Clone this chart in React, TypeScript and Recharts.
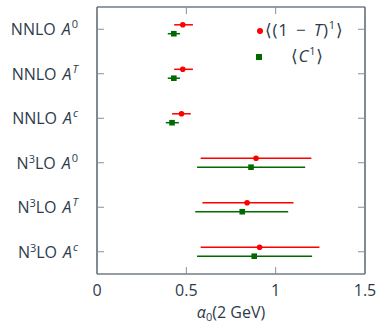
import React from 'react';
import { ScatterChart, Scatter, XAxis, YAxis, ErrorBar } from 'recharts';

const orders = ['NNLO', 'NNLO', 'NNLO', 'N3LO', 'N3LO', 'N3LO'];
const schemes = ['0', 'T', 'c', '0', 'T', 'c'];

// <(1-T)^1> fits
const thrustCentral = [0.48, 0.48, 0.473, 0.89, 0.84, 0.91];
const thrustLow = [0.432, 0.432, 0.42, 0.58, 0.59, 0.58];
const thrustHigh = [0.537, 0.537, 0.525, 1.2, 1.1, 1.245];

// <C^1> fits
const cparCentral = [0.43, 0.43, 0.42, 0.862, 0.813, 0.88];
const cparLow = [0.396, 0.396, 0.385, 0.56, 0.55, 0.56];
const cparHigh = [0.465, 0.465, 0.458, 1.165, 1.07, 1.204];

const xTicks = [0, 0.5, 1, 1.5];
const yTicks = [1, 2, 3, 4, 5, 6];

const TEXT = '#2c3b4b';
const TICK = '#8a8f96';
const RED = '#ff0000';
const GREEN = '#006a00';
const FONT = '"Open Sans", "DejaVu Sans", sans-serif';
const FS = 16;
const TL = 7; // inward tick length
const LM = 19; // gap between left axis and label end
const BM = 10; // gap between bottom axis and label top

const build = (c: number[], lo: number[], hi: number[], shift: number) =>
  c.map((v, i) => ({ x: v, y: i + 1 + shift, err: [v - lo[i], hi[i] - v] }));

const thrustData = build(thrustCentral, thrustLow, thrustHigh, -0.1);
const cparData = build(cparCentral, cparLow, cparHigh, 0.1);

const LeftTick = (props: any) => {
  const { x, y, payload } = props;
  const i = Math.round(payload.value) - 1;
  const n3 = orders[i] === 'N3LO';
  const ax = x + LM;
  return (
    <g>
      <line x1={ax} x2={ax + TL} y1={y} y2={y} stroke={TICK} strokeWidth={1} />
      <text x={x} y={y} dy={6} textAnchor="end" fill={TEXT} fontSize={FS} fontFamily={FONT}>
        {n3 ? (
          <>
            <tspan>N</tspan>
            <tspan fontSize={11} dy={-6}>3</tspan>
            <tspan dy={6}>LO</tspan>
          </>
        ) : (
          <tspan>NNLO</tspan>
        )}
        <tspan fontStyle="italic" dx={6}>A</tspan>
        <tspan fontSize={11} dy={-7} dx={1} fontStyle={schemes[i] === '0' ? 'normal' : 'italic'}>{schemes[i]}</tspan>
      </text>
    </g>
  );
};

const BottomTick = (props: any) => {
  const { x, y, payload } = props;
  const ay = y - BM;
  return (
    <g>
      <line x1={x} x2={x} y1={ay} y2={ay - TL} stroke={TICK} strokeWidth={1} />
      <text x={x} y={y} dy={12} textAnchor="middle" fill={TEXT} fontSize={FS} fontFamily={FONT}>
        {String(payload.value)}
      </text>
    </g>
  );
};

const TopTick = (props: any) => (
  <line x1={props.x} x2={props.x} y1={props.y} y2={props.y + TL} stroke={TICK} strokeWidth={1} />
);

const RightTick = (props: any) => (
  <line x1={props.x} x2={props.x - TL} y1={props.y} y2={props.y} stroke={TICK} strokeWidth={1} />
);

const AxisTitle = (props: any) => {
  const { viewBox } = props;
  const cx = viewBox.x + viewBox.width / 2;
  return (
    <text x={cx} y={318} textAnchor="middle" fill={TEXT} fontSize={FS} fontFamily={FONT}>
      <tspan fontStyle="italic">α</tspan>
      <tspan fontSize={11} dy={3}>0</tspan>
      <tspan dy={-3}>(2 GeV)</tspan>
    </text>
  );
};

const legendText: React.CSSProperties = {
  position: 'absolute',
  fontFamily: FONT,
  color: TEXT,
  fontSize: 17,
  lineHeight: '20px',
  whiteSpace: 'nowrap',
  letterSpacing: 0.8,
};
const sup: React.CSSProperties = { fontSize: 11, position: 'relative', top: -7 };

const LegendBox = () => (
  <>
    <span style={{ position: 'absolute', left: 257, top: 28, width: 6, height: 6, borderRadius: 3, background: RED }} />
    <span style={{ ...legendText, left: 265, top: 20 }}>
      ⟨(1&nbsp;<span style={{ margin: '0 2px' }}>−</span>&nbsp;<i>T</i>)<span style={sup}>1</span>⟩
    </span>
    <span style={{ position: 'absolute', left: 256, top: 54, width: 6, height: 6, background: GREEN }} />
    <span style={{ ...legendText, left: 291, top: 46 }}>
      ⟨<i>C</i><span style={sup}>1</span>⟩
    </span>
  </>
);

const frame = { stroke: TEXT, strokeWidth: 1.2 };

const App = () => (
  <div style={{ position: 'absolute', left: 0, top: 0, width: 377, height: 323 }}>
    <ScatterChart width={377} height={323} margin={{ top: 6, right: 11, bottom: 0, left: 0 }}>
      <XAxis
        type="number"
        dataKey="x"
        domain={[0, 1.5]}
        ticks={xTicks}
        height={49}
        axisLine={frame}
        tickLine={false}
        tickSize={0}
        tickMargin={BM}
        tick={<BottomTick />}
        label={<AxisTitle />}
      />
      <XAxis
        xAxisId="top"
        orientation="top"
        type="number"
        dataKey="x"
        domain={[0, 1.5]}
        ticks={xTicks}
        height={1}
        axisLine={frame}
        tickLine={false}
        tickSize={0}
        tickMargin={0}
        tick={<TopTick />}
      />
      <YAxis
        type="number"
        dataKey="y"
        domain={[0.5, 6.5]}
        reversed
        ticks={yTicks}
        width={97}
        axisLine={frame}
        tickLine={false}
        tickSize={0}
        tickMargin={LM}
        tick={<LeftTick />}
      />
      <YAxis
        yAxisId="right"
        orientation="right"
        type="number"
        dataKey="y"
        domain={[0.5, 6.5]}
        reversed
        ticks={yTicks}
        width={1}
        axisLine={frame}
        tickLine={false}
        tickSize={0}
        tickMargin={0}
        tick={<RightTick />}
      />
      <Scatter
        name="thrust"
        data={thrustData}
        isAnimationActive={false}
        shape={(p: any) => <circle cx={p.cx} cy={p.cy} r={2.8} fill={RED} />}
      >
        <ErrorBar dataKey="err" direction="x" width={0} stroke={RED} strokeWidth={1.5} isAnimationActive={false} />
      </Scatter>
      <Scatter
        name="cparameter"
        data={cparData}
        isAnimationActive={false}
        shape={(p: any) => <rect x={p.cx - 2.8} y={p.cy - 2.8} width={5.6} height={5.6} fill={GREEN} />}
      >
        <ErrorBar dataKey="err" direction="x" width={0} stroke={GREEN} strokeWidth={1.5} isAnimationActive={false} />
      </Scatter>
      {/* invisible series bound to the mirrored top/right axes */}
      <Scatter
        xAxisId="top"
        yAxisId="right"
        data={thrustData}
        isAnimationActive={false}
        shape={() => <g />}
      />
    </ScatterChart>
    <LegendBox />
  </div>
);

export default App;
